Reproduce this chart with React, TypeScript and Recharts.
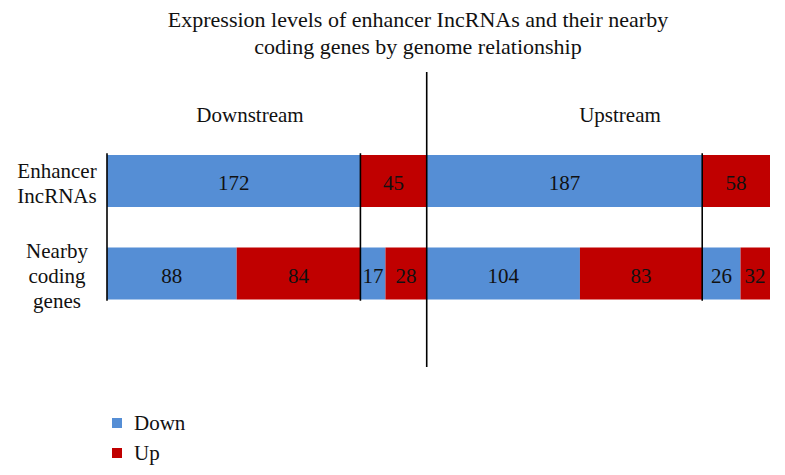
import React from 'react';
import { BarChart, Bar, XAxis, YAxis, ReferenceLine, LabelList, Legend } from 'recharts';

// ---------- data ----------
const categories = ['Enhancer IncRNAs', 'Nearby coding genes'];
const categoryLines = [['Enhancer', 'IncRNAs'], ['Nearby', 'coding', 'genes']];
const sectionLabels = ['Downstream', 'Upstream'];
const titleLines = [
  'Expression levels of enhancer IncRNAs and their nearby',
  'coding genes by genome relationship',
];
// enhancer lncRNAs: [down, up]
const downstreamLncRNA = [172, 45];
const upstreamLncRNA = [187, 58];
// nearby coding genes: [down, up] next to down lncRNAs, then [down, up] next to up lncRNAs
const downstreamCoding = [88, 84, 17, 28];
const upstreamCoding = [104, 83, 26, 32];
const xDomain = [0, 450];
const legendItems = [
  { name: 'Down', key: 'down' },
  { name: 'Up', key: 'up' },
];

// ---------- styling ----------
const W = 785;
const H = 475;
const MARGIN = { top: 135, right: 15, bottom: 155, left: 0 };
const Y_AXIS_W = 107;
const BAR_SIZE = 52;
const FONT = '"Liberation Serif", "Times New Roman", serif';
const FS = 21;
const COLORS: Record<string, string> = { down: '#558ED5', up: '#C00000' };
const PLOT_RIGHT = W - MARGIN.right;

const keys = ['s0', 's1', 's2', 's3', 's4', 's5', 's6', 's7'];
const keyKind = (i: number) => (i % 2 === 0 ? 'down' : 'up');

const lncRow = [downstreamLncRNA[0], 0, 0, downstreamLncRNA[1], upstreamLncRNA[0], 0, 0, upstreamLncRNA[1]];
const codingRow = [...downstreamCoding, ...upstreamCoding];
const data = [lncRow, codingRow].map((vals, r) => {
  const o: Record<string, any> = { row: categories[r] };
  keys.forEach((k, i) => (o[k] = vals[i]));
  return o;
});

const downstreamTotal = downstreamLncRNA[0] + downstreamLncRNA[1];
const boundaryLines = [0, downstreamLncRNA[0], downstreamTotal + upstreamLncRNA[0]];

const renderLabel = (props: any) => {
  const vb = props.viewBox || props;
  const x = vb.x ?? props.x;
  const y = vb.y ?? props.y;
  const width = vb.width ?? props.width;
  const height = vb.height ?? props.height;
  const value = props.value;
  if (!value) return null;
  const half = String(value).length * 5.5;
  let cx = x + width / 2;
  const maxX = PLOT_RIGHT - half - 4;
  if (cx > maxX) cx = maxX;
  return (
    <text x={cx} y={y + height / 2 + 9} textAnchor="middle" fontFamily={FONT} fontSize={FS} fill="#111">
      {value}
    </text>
  );
};

const renderTick = (props: any) => {
  const { y, payload } = props;
  const idx = categories.indexOf(payload.value);
  const lines = categoryLines[idx] || [payload.value];
  const spacing = 25;
  const first = y - ((lines.length - 1) * spacing) / 2 + 9;
  return (
    <g>
      {lines.map((l, i) => (
        <text key={i} x={57} y={first + i * spacing} textAnchor="middle" fontFamily={FONT} fontSize={FS} fill="#111">
          {l}
        </text>
      ))}
    </g>
  );
};

const barSpanLine = (props: any) => {
  const { x1, y1, y2 } = props;
  const top = Math.min(y1, y2);
  const bottom = Math.max(y1, y2);
  const band = (bottom - top) / categories.length;
  const pad = (band - BAR_SIZE) / 2;
  return <line x1={x1} x2={x1} y1={top + pad - 2} y2={bottom - pad + 1} stroke="#000" strokeWidth={1.6} />;
};

const dividerLine = (props: any) => {
  const { x1, y1, y2 } = props;
  const top = Math.min(y1, y2);
  const bottom = Math.max(y1, y2);
  return <line x1={x1} x2={x1} y1={top - 63} y2={bottom + 47} stroke="#000" strokeWidth={1.6} />;
};

const LegendContent = () => (
  <div style={{ fontFamily: FONT, fontSize: FS, color: '#111' }}>
    {legendItems.map((it) => (
      <div key={it.key} style={{ display: 'flex', alignItems: 'center', height: 30 }}>
        <span style={{ display: 'inline-block', width: 10, height: 10, background: COLORS[it.key], marginRight: 12 }} />
        <span style={{ lineHeight: '30px' }}>{it.name}</span>
      </div>
    ))}
  </div>
);

export default function App() {
  return (
    <div style={{ position: 'relative', width: W, height: H, background: '#fff', fontFamily: FONT }}>
      <style>{`body{margin:0;}`}</style>
      <div style={{ position: 'absolute', left: 0, top: 6, width: 836, textAlign: 'center', fontSize: 22, lineHeight: '27px', color: '#111' }}>
        {titleLines.map((t, i) => (
          <div key={i}>{t}</div>
        ))}
      </div>
      <div style={{ position: 'absolute', left: 150, width: 200, top: 103, textAlign: 'center', fontSize: FS, color: '#111' }}>
        {sectionLabels[0]}
      </div>
      <div style={{ position: 'absolute', left: 520, width: 200, top: 103, textAlign: 'center', fontSize: FS, color: '#111' }}>
        {sectionLabels[1]}
      </div>
      <BarChart width={W} height={H} data={data} layout="vertical" margin={MARGIN} barSize={BAR_SIZE}>
        <XAxis type="number" domain={xDomain} allowDataOverflow hide />
        <YAxis type="category" dataKey="row" width={Y_AXIS_W} axisLine={false} tickLine={false} tick={renderTick} interval={0} />
        {keys.map((k, i) => (
          <Bar key={k} dataKey={k} stackId="a" fill={COLORS[keyKind(i)]} isAnimationActive={false}>
            <LabelList dataKey={k} content={renderLabel} />
          </Bar>
        ))}
        {boundaryLines.map((v) => (
          <ReferenceLine key={v} x={v} ifOverflow="visible" shape={barSpanLine} />
        ))}
        <ReferenceLine x={downstreamTotal} ifOverflow="visible" shape={dividerLine} />
        <Legend
          layout="vertical"
          align="center"
          verticalAlign="middle"
          content={<LegendContent />}
          wrapperStyle={{ left: 112, top: 408, width: 120 }}
        />
      </BarChart>
    </div>
  );
}
